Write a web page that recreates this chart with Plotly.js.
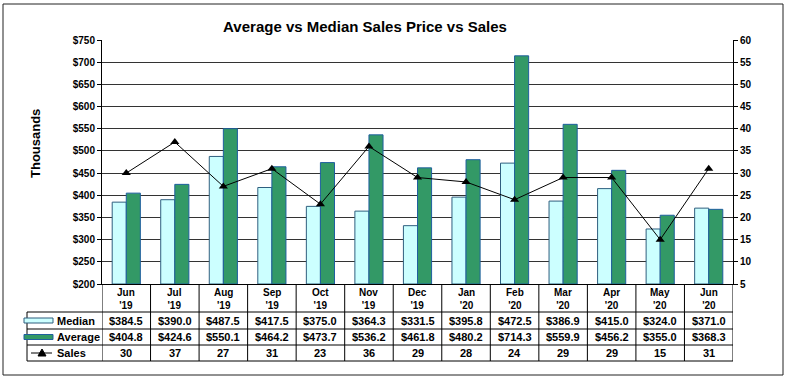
<!DOCTYPE html>
<html>
<head>
<meta charset="utf-8">
<script src="https://cdn.plot.ly/plotly-3.0.1.min.js"></script>
<style>html,body{margin:0;padding:0;background:#fff;}#chart{width:787px;height:380px;}</style>
</head>
<body>
<div id="chart"></div>
<script>
var months = ["Jun", "Jul", "Aug", "Sep", "Oct", "Nov", "Dec", "Jan", "Feb", "Mar", "Apr", "May", "Jun"];
var years = ["'19", "'19", "'19", "'19", "'19", "'19", "'19", "'20", "'20", "'20", "'20", "'20", "'20"];
var categories = ["Jun '19", "Jul '19", "Aug '19", "Sep '19", "Oct '19", "Nov '19", "Dec '19", "Jan '20", "Feb '20", "Mar '20", "Apr '20", "May '20", "Jun '20"];
var median = [384.5, 390.0, 487.5, 417.5, 375.0, 364.3, 331.5, 395.8, 472.5, 386.9, 415.0, 324.0, 371.0];
var average = [404.8, 424.6, 550.1, 464.2, 473.7, 536.2, 461.8, 480.2, 714.3, 559.9, 456.2, 355.0, 368.3];
var sales = [30, 37, 27, 31, 23, 36, 29, 28, 24, 29, 29, 15, 31];
var leftTicks = [200, 250, 300, 350, 400, 450, 500, 550, 600, 650, 700, 750];
var rightTicks = [5, 10, 15, 20, 25, 30, 35, 40, 45, 50, 55, 60];

var FONT = "Liberation Sans, Arial, sans-serif";
var BASE = 200;

var traces = [
  {type: "bar", name: "Median", x: categories, y: median.map(function(v){return v - BASE;}), base: BASE,
   marker: {color: "#CCFFFF", line: {color: "#2F5F7F", width: 1}}, hoverinfo: "skip"},
  {type: "bar", name: "Average", x: categories, y: average.map(function(v){return v - BASE;}), base: BASE,
   marker: {color: "#339966", line: {color: "#1F5F9F", width: 1}}, hoverinfo: "skip"},
  {type: "scatter", mode: "lines+markers", name: "Sales", x: categories, y: sales, yaxis: "y2",
   line: {color: "#000", width: 1}, marker: {symbol: "triangle-up", size: 8, color: "#000"}, hoverinfo: "skip"}
];

// pixel → paper helpers (plot area: x 102..733, y 40..284)
var L = 102, R = 733, T = 40, B = 284;
function px(x){ return (x - L) / (R - L); }
function py(y){ return 1 - (y - T) / (B - T); }

var shapes = [];
var annotations = [];
var lineStyle = {color: "#000", width: 1};

// outer border
shapes.push({type: "rect", xref: "paper", yref: "paper", x0: px(3), x1: px(783), y0: py(4), y1: py(375), line: {color: "#222", width: 1}});

// table horizontal lines
[312, 329, 345, 361].forEach(function(y){
  shapes.push({type: "line", xref: "paper", yref: "paper", x0: px(27), x1: px(R), y0: py(y), y1: py(y), line: lineStyle});
});
// legend column left border
shapes.push({type: "line", xref: "paper", yref: "paper", x0: px(27), x1: px(27), y0: py(312), y1: py(361), line: lineStyle});
// category vertical lines
for (var i = 0; i <= categories.length; i++) {
  shapes.push({type: "line", xref: "x", yref: "paper", x0: i - 0.5, x1: i - 0.5, y0: py(284), y1: py(361), line: lineStyle});
}

// legend swatches
shapes.push({type: "rect", xref: "paper", yref: "paper", x0: px(24), x1: px(53), y0: py(323), y1: py(318), fillcolor: "#CCFFFF", line: {color: "#2F5F7F", width: 1}});
shapes.push({type: "rect", xref: "paper", yref: "paper", x0: px(24), x1: px(53), y0: py(339.5), y1: py(334.5), fillcolor: "#339966", line: {color: "#1F5F9F", width: 1}});
shapes.push({type: "line", xref: "paper", yref: "paper", x0: px(31), x1: px(52), y0: py(353), y1: py(353), line: lineStyle});
shapes.push({type: "path", xref: "paper", yref: "paper", xsizemode: "pixel", ysizemode: "pixel",
  xanchor: px(42), yanchor: py(353), path: "M -4 -3 L 4 -3 L 0 4 Z", fillcolor: "#000", line: {color: "#000", width: 1}});

var legendRows = [["Median", 320.5], ["Average", 337], ["Sales", 353]];
legendRows.forEach(function(r){
  annotations.push({xref: "paper", yref: "paper", x: px(55), y: py(r[1]), xanchor: "left", yanchor: "middle",
    text: "<b>" + r[0] + "</b>", showarrow: false, font: {family: FONT, size: 11, color: "#000"}});
});

for (var j = 0; j < categories.length; j++) {
  annotations.push({xref: "x", yref: "paper", x: categories[j], y: py(299), xanchor: "center", yanchor: "middle",
    text: "<b>" + months[j] + "<br>" + years[j] + "</b>", showarrow: false, font: {family: FONT, size: 10, color: "#000"}});
  annotations.push({xref: "x", yref: "paper", x: categories[j], y: py(320.5), xanchor: "center", yanchor: "middle",
    text: "<b>$" + median[j].toFixed(1) + "</b>", showarrow: false, font: {family: FONT, size: 11, color: "#000"}});
  annotations.push({xref: "x", yref: "paper", x: categories[j], y: py(337), xanchor: "center", yanchor: "middle",
    text: "<b>$" + average[j].toFixed(1) + "</b>", showarrow: false, font: {family: FONT, size: 11, color: "#000"}});
  annotations.push({xref: "x", yref: "paper", x: categories[j], y: py(353), xanchor: "center", yanchor: "middle",
    text: "<b>" + sales[j] + "</b>", showarrow: false, font: {family: FONT, size: 11, color: "#000"}});
}

// y-axis title
annotations.push({xref: "paper", yref: "paper", x: px(35), y: py(144), textangle: -90, xanchor: "center", yanchor: "middle",
  text: "<b>Thousands</b>", showarrow: false, font: {family: FONT, size: 13, color: "#000"}});

var layout = {
  width: 787, height: 380,
  margin: {l: L, r: 787 - R, t: T, b: 380 - B, pad: 0},
  paper_bgcolor: "#fff", plot_bgcolor: "#fff",
  showlegend: false,
  barmode: "group", bargap: 0.42, bargroupgap: 0,
  title: {text: "<b>Average vs Median Sales Price vs Sales</b>", x: px(365), xref: "paper", xanchor: "center",
          y: 1 - 27/380, yref: "container", yanchor: "middle", font: {family: FONT, size: 15, color: "#000"}},
  xaxis: {type: "category", showticklabels: false, ticks: "", showgrid: false, zeroline: false,
          showline: true, linecolor: "#000", linewidth: 1, range: [-0.5, categories.length - 0.5], fixedrange: true},
  yaxis: {range: [200, 750], tickvals: leftTicks, ticktext: leftTicks.map(function(v){return "$" + v;}),
          showgrid: true, gridcolor: "#333", gridwidth: 1, zeroline: false,
          showline: true, linecolor: "#000", linewidth: 1, ticks: "outside", ticklen: 4, tickcolor: "#000",
          tickfont: {family: FONT, size: 10, color: "#000", weight: "bold"}, fixedrange: true},
  yaxis2: {range: [5, 60], tickvals: rightTicks, ticktext: rightTicks.map(function(v){return String(v);}),
           overlaying: "y", side: "right", showgrid: false, zeroline: false,
           showline: true, linecolor: "#000", linewidth: 1, ticks: "outside", ticklen: 4, tickcolor: "#000",
           tickfont: {family: FONT, size: 10, color: "#000", weight: "bold"}, fixedrange: true},
  shapes: shapes,
  annotations: annotations
};

Plotly.newPlot("chart", traces, layout, {displayModeBar: false, staticPlot: true});
</script>
</body>
</html>
